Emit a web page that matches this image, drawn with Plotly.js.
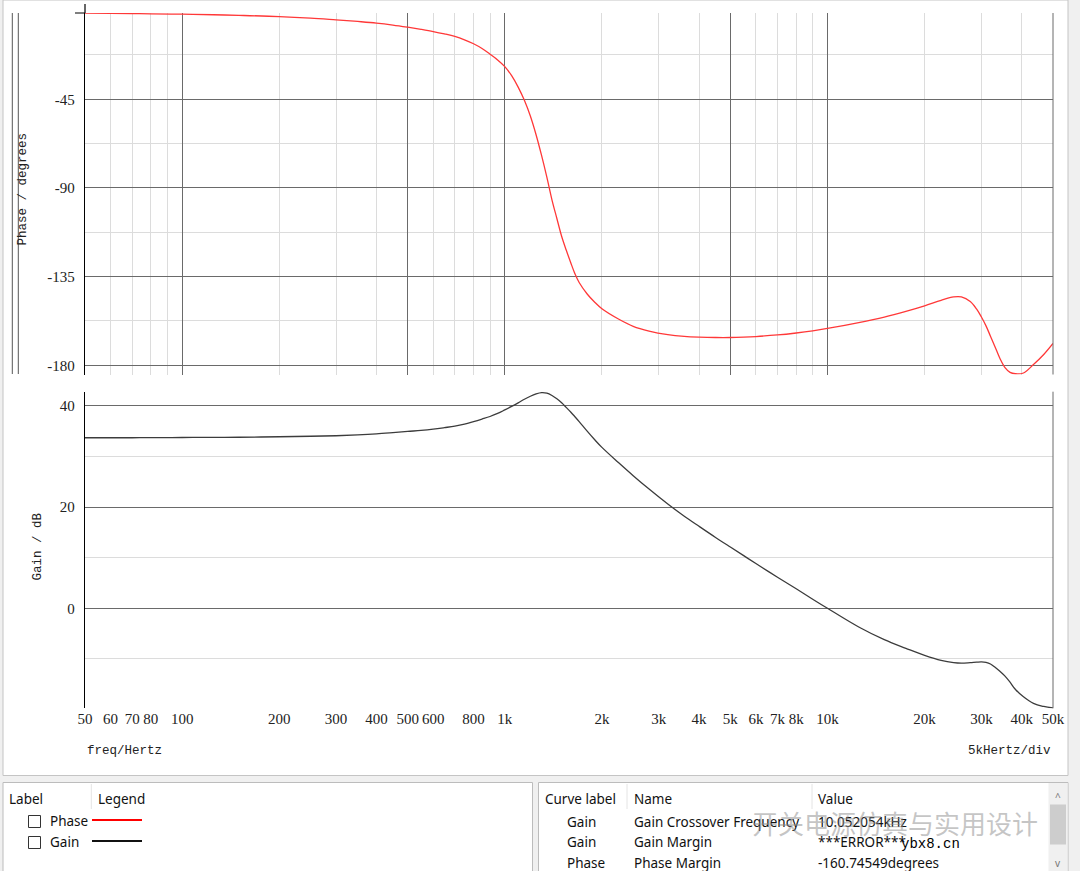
<!DOCTYPE html>
<html>
<head>
<meta charset="utf-8">
<script src="https://cdn.plot.ly/plotly-3.0.1.min.js"></script>
<style>
html,body{margin:0;padding:0;background:#f0f0f0;}
#chart{width:1080px;height:871px;}
</style>
</head>
<body>
<div id="chart"></div>
<script>
// ---------- data ----------
const freqHz = [50, 60, 70, 80, 100, 125, 150, 200, 250, 300, 350, 400, 450, 500, 550, 600, 650, 700, 750, 800, 850, 900, 950, 1000, 1050, 1100, 1150, 1200, 1250, 1300, 1350, 1400, 1450, 1500, 1550, 1600, 1650, 1700, 1800, 1900, 2000, 2250, 2500, 2800, 3200, 3600, 4000, 4500, 5000, 5500, 6000, 7000, 8000, 9000, 10000, 12500, 15000, 17500, 20000, 22500, 24600, 26000, 27700, 29000, 30000, 31000, 32000, 33000, 34300, 35500, 36800, 38200, 40500, 43500, 46800, 50000];
const phaseDeg = [-1.3, -1.4, -1.5, -1.6, -1.8, -2.1, -2.4, -3.0, -3.8, -4.7, -5.5, -6.3, -7.3, -8.4, -9.5, -10.6, -11.8, -13.1, -14.8, -16.8, -19.2, -22.1, -25.0, -28.4, -33.0, -38.8, -45.5, -53.5, -63.0, -73.5, -84.5, -96.0, -105.5, -114.5, -121.5, -127.8, -133.6, -138.0, -143.8, -148.0, -151.3, -156.5, -160.2, -162.6, -164.4, -165.3, -165.7, -165.9, -165.9, -165.7, -165.4, -164.6, -163.6, -162.5, -161.3, -158.3, -155.5, -152.6, -149.8, -147.0, -145.3, -145.3, -147.6, -151.5, -155.5, -160.0, -165.2, -170.3, -176.8, -181.2, -183.6, -184.3, -183.9, -179.6, -174.5, -168.9];
const gainDb = [33.7, 33.7, 33.7, 33.72, 33.75, 33.78, 33.8, 33.9, 34.0, 34.1, 34.25, 34.45, 34.7, 34.95, 35.15, 35.4, 35.7, 36.0, 36.4, 36.9, 37.4, 37.9, 38.5, 39.2, 39.9, 40.6, 41.3, 41.9, 42.35, 42.6, 42.5, 42.05, 41.4, 40.6, 39.7, 38.8, 37.85, 36.9, 35.0, 33.3, 31.8, 28.8, 26.2, 23.55, 20.6, 18.2, 16.2, 14.0, 12.1, 10.4, 8.85, 6.15, 3.85, 1.8, 0.0, -3.7, -6.2, -7.9, -9.3, -10.3, -10.75, -10.85, -10.75, -10.65, -10.6, -10.7, -11.0, -11.6, -12.5, -13.4, -14.6, -16.0, -17.5, -18.8, -19.4, -19.7];

const seriesNames = ['Phase', 'Gain'];
const xTickVals = [50, 60, 70, 80, 100, 200, 300, 400, 500, 600, 800, 1000, 2000, 3000, 4000, 5000, 6000, 7000, 8000, 10000, 20000, 30000, 40000, 50000];
const xTickText = ['50', '60', '70', '80', '100', '200', '300', '400', '500', '600', '800', '1k', '2k', '3k', '4k', '5k', '6k', '7k', '8k', '10k', '20k', '30k', '40k', '50k'];
const xMajorGrid = [100, 500, 1000, 5000, 10000];
const xMinorGrid = [60, 70, 80, 90, 200, 300, 400, 600, 700, 800, 900, 2000, 3000, 4000, 6000, 7000, 8000, 9000, 20000, 30000, 40000];
const phaseTicks = [-180, -135, -90, -45];
const phaseTickText = ['-180', '-135', '-90', '-45'];
const phaseMinor = [-157.5, -112.5, -67.5, -22.5];
const gainTicks = [0, 20, 40];
const gainMinor = [-10, 10, 30];

const tableCurveLabels = ['Gain', 'Gain', 'Phase'];
const tableNames = ['Gain Crossover Frequency', 'Gain Margin', 'Phase Margin'];
const tableValues = ['10.052054kHz', '***ERROR***', '-160.74549degrees'];

// ---------- geometry helpers ----------
const W = 1080, H = 871;
const px = x => x / W;
const py = y => 1 - y / H;

const xRange = [Math.log10(50), Math.log10(50000)];
const xDomain = [px(85), px(1053)];
const topDomain = [py(374.5), py(13)];
const botDomain = [py(708.3), py(391.7)];

const serif = 'Liberation Serif, DejaVu Serif, serif';
const mono = 'Liberation Mono, DejaVu Sans Mono, monospace';
const sans = 'Noto Sans, Open Sans, sans-serif';

function gridX(anchor) {
  return {
    type: 'log', range: xRange, domain: xDomain, anchor: anchor,
    tickmode: 'array', tickvals: xMajorGrid, showticklabels: false, ticks: '',
    showgrid: true, gridcolor: '#6a6a6a', gridwidth: 1,
    minor: {tickmode: 'array', tickvals: xMinorGrid, showgrid: true, gridcolor: '#dcdcdc', gridwidth: 1, ticks: ''},
    showline: false, zeroline: false, fixedrange: true
  };
}

const traces = [
  {x: freqHz, y: phaseDeg, name: seriesNames[0], xaxis: 'x2', yaxis: 'y2', type: 'scatter', mode: 'lines',
   line: {color: '#ff3838', width: 1.3, shape: 'spline', smoothing: 1}, hoverinfo: 'x+y'},
  {x: freqHz, y: gainDb, name: seriesNames[1], xaxis: 'x3', yaxis: 'y', type: 'scatter', mode: 'lines',
   line: {color: '#3c3c3c', width: 1.3, shape: 'spline', smoothing: 1}, hoverinfo: 'x+y'}
];

// ---------- decorations: window frame, tables ----------
const shapes = [];
const annotations = [];
function rect(x0, y0, x1, y1, fill, line) {
  shapes.push({type: 'rect', xref: 'paper', yref: 'paper', x0: px(x0), x1: px(x1), y0: py(y1), y1: py(y0),
    fillcolor: fill, line: {color: line || 'rgba(0,0,0,0)', width: line ? 1 : 0}, layer: 'below'});
}
function seg(x0, y0, x1, y1, color, width, layer) {
  shapes.push({type: 'line', xref: 'paper', yref: 'paper', x0: px(x0), x1: px(x1), y0: py(y0), y1: py(y1),
    line: {color: color, width: width || 1}, layer: layer || 'above'});
}
function text(t, x, y, opts) {
  opts = opts || {};
  annotations.push(Object.assign({text: t, xref: 'paper', yref: 'paper', x: px(x), y: py(y), showarrow: false,
    xanchor: 'left', yanchor: 'middle', font: {family: sans, size: 13.5, color: '#111'}}, opts));
}

rect(3, 0, 1068, 775.5, '#ffffff', '#c4c4c4');
rect(3, 782.5, 532.5, 872, '#ffffff', '#bcbcbc');
rect(538.5, 782.5, 1068, 872, '#ffffff', '#bcbcbc');
// scrollbar
rect(1048.5, 783, 1067.5, 871, '#f0f0f0', null);
rect(1050, 804.5, 1066, 844.5, '#cdcdcd', null);

// left double rule, axis extension and top tick
seg(12.3, 13, 12.3, 374, '#555', 1);
seg(18.3, 13, 18.3, 374, '#555', 1);
seg(85, 4, 85, 13, '#000', 1.2);
seg(75, 13, 85, 13, '#000', 1);
// right edge lines of both panels
seg(1053, 13, 1053, 374.5, '#6a6a6a', 1);
seg(1053, 391.7, 1053, 708.3, '#6a6a6a', 1);

// table header separators
seg(91.3, 784, 91.3, 809, '#e4e4e4', 1);
seg(627, 784, 627, 809, '#e4e4e4', 1);
seg(812, 784, 812, 809, '#e4e4e4', 1);

// axis titles / captions
text('Phase / degrees', 22.5, 189, {xanchor: 'center', textangle: -90, font: {family: mono, size: 12.5, color: '#222'}});
text('Gain / dB', 37.5, 547, {xanchor: 'center', textangle: -90, font: {family: mono, size: 12.5, color: '#222'}});
text('freq/Hertz', 85, 751, {font: {family: mono, size: 12.5, color: '#222'}});
text('5kHertz/div', 1053, 751, {xanchor: 'right', font: {family: mono, size: 12.5, color: '#222'}});

// legend table
text('Label', 7, 798.5);
text('Legend', 95.5, 798.5);
const legendColors = ['#ff0000', '#111111'];
const legendRows = [821, 842];
seriesNames.forEach((n, i) => {
  const yc = legendRows[i];
  shapes.push({type: 'rect', xref: 'paper', yref: 'paper', x0: px(28.5), x1: px(40.5), y0: py(yc + 6.5), y1: py(yc - 5.5),
    fillcolor: '#ffffff', line: {color: '#333', width: 1}, layer: 'above'});
  text(n, 47.5, yc);
  seg(92, yc - 1, 142, yc - 1, legendColors[i], 2);
});

// measurement table
text('Curve label', 543, 798.5);
text('Name', 632, 798.5);
text('Value', 816, 798.5);
const tableRowsY = [821.5, 842, 862.5];
tableCurveLabels.forEach((c, i) => {
  text(c, 565, tableRowsY[i]);
  text(tableNames[i], 632, tableRowsY[i]);
  text(tableValues[i], 816, tableRowsY[i]);
});
text('^', 1058, 797, {xanchor: 'center', font: {family: sans, size: 10, color: '#777'}});
text('v', 1058, 863, {xanchor: 'center', font: {family: sans, size: 10, color: '#777'}});
// watermark
text('开关电源仿真与实用设计', 895, 822, {xanchor: 'center', font: {family: 'Noto Sans CJK SC, sans-serif', size: 26, color: 'rgba(140,140,140,0.5)'}});
text('ybx8.cn', 899, 843.5, {font: {family: mono, size: 14, color: '#000'}});

const layout = {
  width: W, height: H,
  margin: {l: 0, r: 0, t: 0, b: 0, pad: 0},
  paper_bgcolor: '#f0f0f0', plot_bgcolor: '#ffffff',
  showlegend: false,
  xaxis: gridX('y'),
  xaxis2: gridX('y2'),
  xaxis3: {type: 'log', range: xRange, domain: xDomain, anchor: 'y', overlaying: 'x', side: 'bottom',
    tickmode: 'array', tickvals: xTickVals, ticktext: xTickText, ticks: '', showgrid: false, showline: false,
    zeroline: false, tickfont: {family: serif, size: 15, color: '#222'}, ticklabelstandoff: 0, fixedrange: true},
  yaxis: {domain: botDomain, anchor: 'x', range: [-19.76, 42.8], tickmode: 'array', tickvals: gainTicks,
    ticks: '', showgrid: true, gridcolor: '#6a6a6a', gridwidth: 1, zeroline: false,
    minor: {tickmode: 'array', tickvals: gainMinor, showgrid: true, gridcolor: '#dcdcdc', ticks: ''},
    showline: true, linecolor: '#000', linewidth: 1.2,
    tickfont: {family: serif, size: 15, color: '#222'}, ticklabelstandoff: 6, fixedrange: true},
  yaxis2: {domain: topDomain, anchor: 'x2', range: [-184.67, -1.2], tickmode: 'array', tickvals: phaseTicks,
    ticktext: phaseTickText, ticks: '', showgrid: true, gridcolor: '#6a6a6a', gridwidth: 1, zeroline: false,
    minor: {tickmode: 'array', tickvals: phaseMinor, showgrid: true, gridcolor: '#dcdcdc', ticks: ''},
    showline: true, linecolor: '#000', linewidth: 1.2,
    tickfont: {family: serif, size: 15, color: '#222'}, ticklabelstandoff: 6, fixedrange: true},
  shapes: shapes,
  annotations: annotations
};

Plotly.newPlot('chart', traces, layout, {displayModeBar: false, staticPlot: true});
</script>
</body>
</html>
